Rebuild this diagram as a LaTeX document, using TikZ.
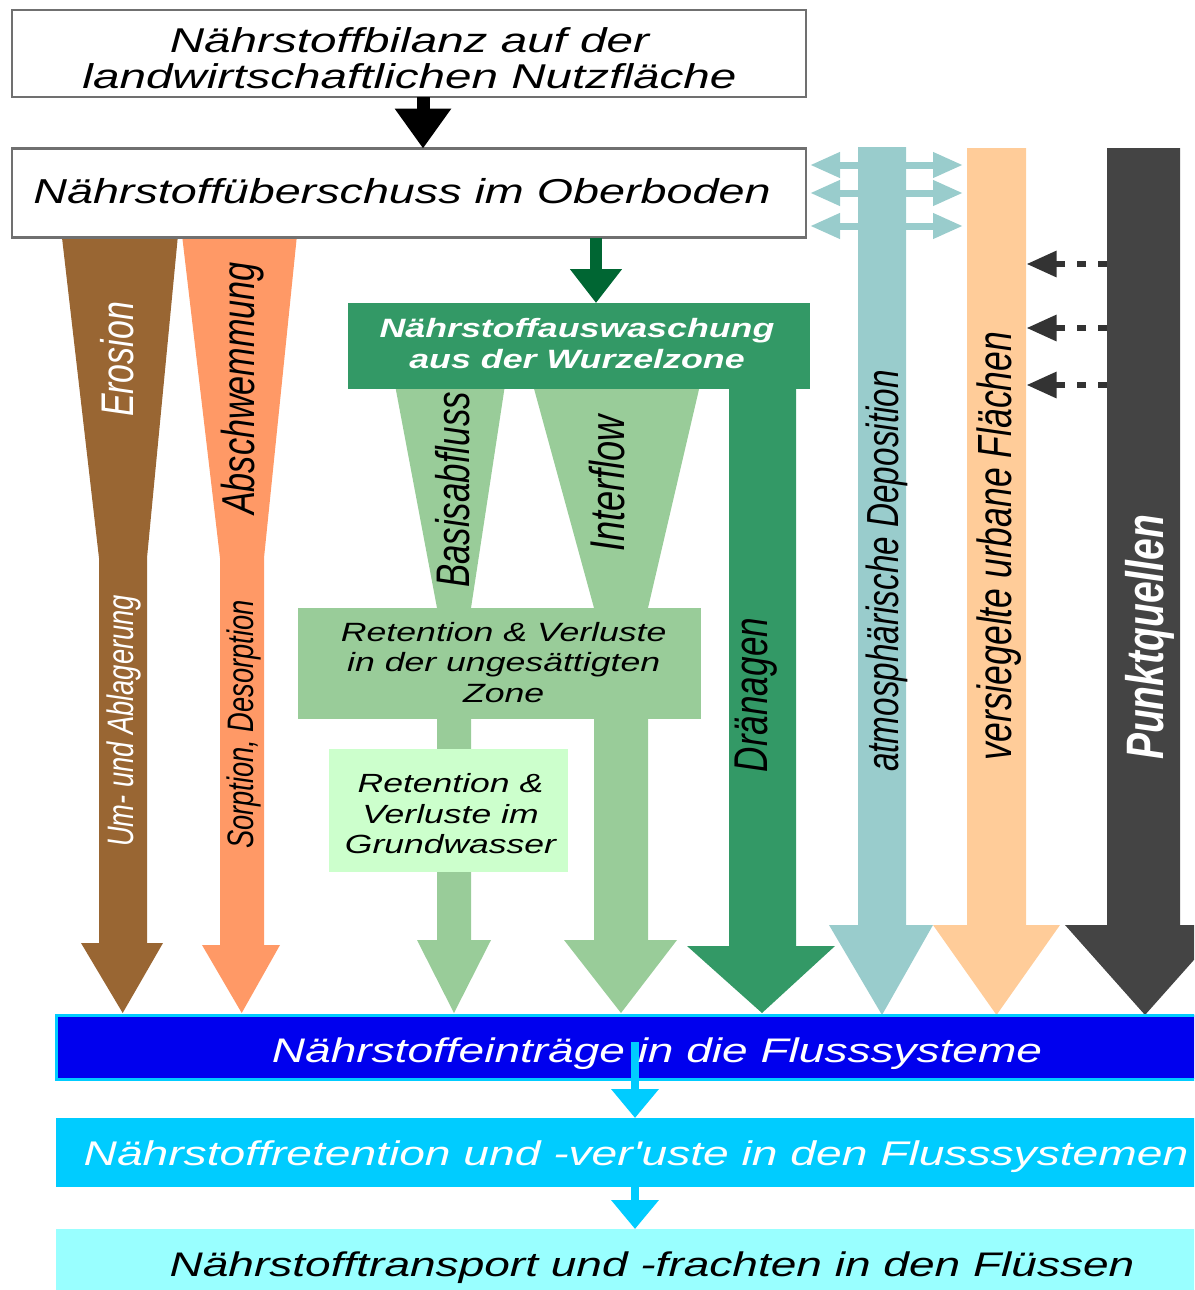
\documentclass[tikz,border=0pt]{standalone}
\usepackage{fontspec}
\setmainfont{Liberation Sans}[Ligatures=TeXOff]
\usetikzlibrary{arrows.meta}

\definecolor{soilbrown}{HTML}{996633}
\definecolor{washorange}{HTML}{FF9966}
\definecolor{paleorange}{HTML}{FFCC99}
\definecolor{atmoteal}{HTML}{99CCCC}
\definecolor{seepgreen}{HTML}{99CC99}
\definecolor{rootgreen}{HTML}{339966}
\definecolor{deepgreen}{HTML}{006633}
\definecolor{gwgreen}{HTML}{CCFFCC}
\definecolor{pointgrey}{HTML}{444444}
\definecolor{dotgrey}{HTML}{333333}
\definecolor{framegrey}{HTML}{707070}
\definecolor{riverblue}{HTML}{0000EE}
\definecolor{rivercyan}{HTML}{00CCFF}
\definecolor{riverpale}{HTML}{99FFFF}

% wide horizontal lettering, tall lettering for the upright labels
\newcommand\widetext[2][1.35]{\scalebox{#1}[1]{#2}}
\newcommand\talltext[1]{\scalebox{1}[1.35]{#1}}
\newcommand\fsz[2]{\fontsize{#1pt}{#2pt}\selectfont}

\begin{document}
\begin{tikzpicture}[x=1pt,y=-1pt,
  plate/.style={rectangle, inner sep=0pt, outer sep=0pt},
  frame/.style={plate, draw=framegrey, line width=2.5pt, fill=white},
  lbl/.style={inner sep=0pt, outer sep=0pt, anchor=base},
  vlbl/.style={lbl, rotate=90},
  blackhead/.style={-{Triangle[length=40pt,width=54pt]}},
  conn/.style={line width=#1},
  doublearrow/.style={line width=7pt, atmoteal,
    {Triangle[length=30pt,width=24pt]}-{Triangle[length=30pt,width=24pt]}},
  dottedarrow/.style={line width=6pt, dotgrey, dash pattern=on 9pt off 12pt,
    -{Triangle[length=30pt,width=25pt]}},
  riverarrow/.style={line width=8pt, rivercyan, -{Triangle[length=29pt,width=46pt]}}
]
\useasboundingbox (0,0) rectangle (1194,1290);
\clip (0,0) rectangle (1194,1290);

% ---------- pathways (drawn first, boxes overlap them) ----------
% erosion
\fill[soilbrown] (61.7,235) -- (178,235) -- (147,558) -- (147,943) -- (163,943)
  -- (122.7,1013) -- (81,943) -- (99,943) -- (99,558) -- cycle;
% surface runoff
\fill[washorange] (182,235) -- (297,235) -- (264,558) -- (264,945) -- (280,945)
  -- (241.7,1013) -- (202,945) -- (220,945) -- (220,558) -- cycle;
% base flow
\fill[seepgreen] (395,385) -- (505,385) -- (471,608) -- (471,940) -- (491,940)
  -- (454,1013) -- (417,940) -- (437,940) -- (437,608) -- cycle;
% interflow
\fill[seepgreen] (533,385) -- (700,385) -- (648,608) -- (648,940) -- (677,940)
  -- (621,1013) -- (564,940) -- (594,940) -- (594,608) -- cycle;
% tile drainage
\fill[rootgreen] (729,380) -- (796,380) -- (796,946) -- (835,946)
  -- (762,1013) -- (687,946) -- (729,946) -- cycle;
% atmospheric deposition
\fill[atmoteal] (858,147) -- (906,147) -- (906,925) -- (933,925)
  -- (882,1015) -- (829,925) -- (858,925) -- cycle;
% urban areas
\fill[paleorange] (967,148) -- (1026,148) -- (1026,925) -- (1060,925)
  -- (996.5,1015) -- (933,925) -- (967,925) -- cycle;
% point sources
\fill[pointgrey] (1107,148) -- (1180,148) -- (1180,925) -- (1225,925)
  -- (1145,1015) -- (1065,925) -- (1107,925) -- cycle;

% ---------- side arrows ----------
\foreach \yy [count=\i] in {165,193,226} {
  \coordinate (dl\i) at (810,\yy);
  \coordinate (dr\i) at (963,\yy);
  \draw[doublearrow] (dl\i) -- (dr\i);
}
\foreach \yy [count=\i] in {264,328,385} {
  \coordinate (ps\i) at (1107,\yy);
  \coordinate (ue\i) at (1026.5,\yy);
  \draw[dottedarrow] (ps\i) -- (ue\i);
}

% ---------- boxes ----------
\node[frame, minimum width=794pt, minimum height=87pt] (bilanz) at (409,53.5) {};
\node[frame, minimum width=794pt, minimum height=89pt] (ueber) at (409,193) {};
\node[plate, fill=rootgreen, minimum width=462pt, minimum height=86pt] (wash) at (579,346) {};
\node[plate, fill=seepgreen, minimum width=403pt, minimum height=111pt] (unsat) at (499.5,663.5) {};
\node[plate, fill=gwgreen, minimum width=239.4pt, minimum height=123pt] (gw) at (448.3,810.5) {};

\node[plate, fill=riverblue, draw=rivercyan, line width=3pt,
      minimum width=1174pt, minimum height=64pt] (eintrag) at (643,1047) {};
\node[plate, fill=rivercyan, minimum width=1174pt, minimum height=69pt] (retent) at (643,1152.5) {};
\node[plate, fill=riverpale, minimum width=1174pt, minimum height=71pt] (transp) at (643,1264.5) {};

% ---------- connectors ----------
\draw[conn=13pt, blackhead] ([xshift=14pt]bilanz.south) -- ([xshift=14pt]ueber.north);
\coordinate (dgx) at (596,0);
\draw[conn=12pt, deepgreen, -{Triangle[length=34pt,width=50pt]}]
  (ueber.south -| dgx) -- (wash.north -| dgx);
\coordinate (rivx) at (635,1042);
\draw[riverarrow] (rivx) -- (retent.north -| rivx);
\draw[riverarrow] (retent.south -| rivx) -- (transp.north -| rivx);

% ---------- box texts ----------
\node[lbl, font=\fsz{34.4}{36}\itshape] (bilanztext) at (409.5,52.5)
  {\widetext[1.385]{\begin{tabular}[t]{@{}c@{}}Nährstoffbilanz auf der\\landwirtschaftlichen Nutzfläche\end{tabular}}};
\node[lbl, font=\fsz{34.6}{35}\itshape] (uebertext) at (402,203.5)
  {\widetext{Nährstoffüberschuss im Oberboden}};
\node[lbl, white, font=\fsz{26.5}{31}\bfseries\itshape] (washtext) at (577,337)
  {\widetext{\begin{tabular}[t]{@{}c@{}}Nährstoffauswaschung\\aus der Wurzelzone\end{tabular}}};
\node[lbl, font=\fsz{26.4}{30.5}\itshape] (unsattext) at (503.7,641)
  {\widetext{\begin{tabular}[t]{@{}c@{}}Retention \& Verluste\\in der ungesättigten\\Zone\end{tabular}}};
\node[lbl, font=\fsz{26.3}{30.3}\itshape] (gwtext) at (450.5,792.7)
  {\widetext{\begin{tabular}[t]{@{}c@{}}Retention \&\\Verluste im\\Grundwasser\end{tabular}}};
\node[lbl, white, font=\fsz{34.1}{35}\itshape] (eintragtext) at (657,1062.7)
  {\widetext{Nährstoffeinträge in die Flusssysteme}};
\node[lbl, white, font=\fsz{34.2}{35}\itshape] (retenttext) at (636,1165.7)
  {\widetext{Nährstoffretention und -ver'uste in den Flusssystemen}};
\node[lbl, font=\fsz{34.1}{35}\itshape] (transptext) at (652,1276.7)
  {\widetext{Nährstofftransport und -frachten in den Flüssen}};

% ---------- pathway labels ----------
\node[vlbl, white, font=\fsz{33.9}{36}\itshape] (erosion) at (133,359.5) {\talltext{Erosion}};
\node[vlbl, white, font=\fsz{27.3}{30}\itshape] (umlag) at (133,721) {\talltext{Um- und Ablagerung}};
\node[vlbl, font=\fsz{34.2}{36}\itshape] (abschw) at (254,388.5) {\talltext{Abschwemmung}};
\node[vlbl, font=\fsz{27.3}{30}\itshape] (sorption) at (253,724.5) {\talltext{Sorption, Desorption}};
\node[vlbl, font=\fsz{34.9}{36}\itshape] (basis) at (469,490) {\talltext{Basisabfluss}};
\node[vlbl, font=\fsz{36.2}{38}\itshape] (inter) at (624,483.5) {\talltext{Interflow}};
\node[vlbl, font=\fsz{35.1}{38}\itshape] (draen) at (767,695) {\talltext{Dränagen}};
\node[vlbl, font=\fsz{33.3}{36}\itshape] (atmos) at (898,571) {\talltext{atmosphärische Deposition}};
\node[vlbl, font=\fsz{35.5}{38}\itshape] (urban) at (1011,546) {\talltext{versiegelte urbane Flächen}};
\node[vlbl, white, font=\fsz{39}{42}\bfseries\itshape] (punkt) at (1163,637.5) {\talltext{Punktquellen}};
\end{tikzpicture}
\end{document}
